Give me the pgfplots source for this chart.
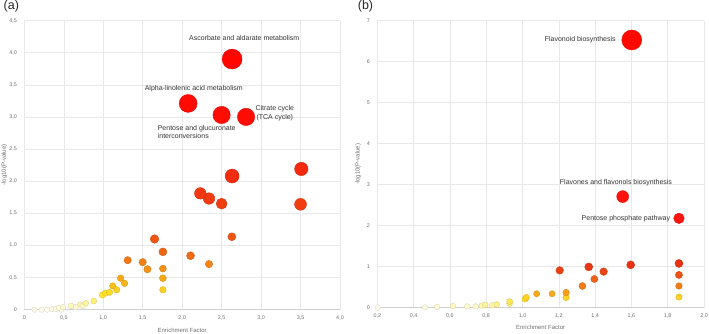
\documentclass[border=0pt]{standalone}
\usepackage{pgfplots}
\pgfplotsset{compat=1.18}
\usepackage{fontspec}
\setmainfont{Liberation Sans}

\definecolor{gridgray}{HTML}{E8E8E8}
\definecolor{basegray}{HTML}{CFCFCF}
\definecolor{ticktext}{HTML}{6E6E6E}
\definecolor{annot}{HTML}{333333}

\tikzset{lbl/.style={font=\fontsize{7}{8.3}\selectfont, text=annot, inner sep=0pt}}

\pgfplotsset{
  colormap={leftmap}{
    rgb255(0pt)=(255,253,238)
    rgb255(5pt)=(255,250,205)
    rgb255(10pt)=(255,245,160)
    rgb255(15pt)=(255,238,100)
    rgb255(25pt)=(255,228,40)
    rgb255(35pt)=(250,195,30)
    rgb255(50pt)=(246,168,24)
    rgb255(70pt)=(242,135,22)
    rgb255(85pt)=(240,105,20)
    rgb255(110pt)=(240,85,18)
    rgb255(170pt)=(240,60,16)
    rgb255(220pt)=(246,40,14)
    rgb255(300pt)=(255,12,4)
    rgb255(400pt)=(255,5,0)
  },
  colormap={rightmap}{
    rgb255(0pt)=(255,253,238)
    rgb255(5pt)=(255,247,180)
    rgb255(10pt)=(255,240,120)
    rgb255(20pt)=(255,225,50)
    rgb255(27pt)=(252,205,35)
    rgb255(36pt)=(246,160,28)
    rgb255(53pt)=(240,125,24)
    rgb255(72pt)=(238,95,22)
    rgb255(90pt)=(234,65,20)
    rgb255(105pt)=(232,50,18)
    rgb255(220pt)=(255,20,15)
    rgb255(700pt)=(255,8,0)
  },
  enrich/.style={
    scale only axis, clip=false,
    axis x line*=bottom, axis y line*=left,
    x axis line style={draw=basegray, line width=0.6pt, -},
    y axis line style={draw=none},
    major tick length=0pt,
    grid=major, grid style={draw=gridgray, line width=0.5pt},
    tick label style={font=\fontsize{5.4}{6}\selectfont, text=ticktext},
    yticklabel style={xshift=-4pt},
    xticklabel style={yshift=-2.5pt},
    label style={font=\fontsize{6}{7}\selectfont, text=ticktext},
    xlabel={Enrichment Factor},
    ylabel={-log10(P-value)},
  },
  bubbles/.style={
    scatter, only marks, mark=*,
    scatter src=y,
    mark options={line width=0.35pt},
    scatter/use mapped color={draw=mapped color!85!black, fill=mapped color},
    visualization depends on={\thisrow{r}\as\rad},
    scatter/@pre marker code/.append style={/tikz/mark size=\rad},
  },
}

% pathway enrichment, panel (a)
\pgfplotstableread{
x y r
0.13 0.00 2.7
0.22 0.00 2.7
0.29 0.00 2.7
0.35 0.01 2.7
0.40 0.01 2.7
0.47 0.00 2.7
0.44 0.03 2.8
0.49 0.04 2.8
0.65 0.04 2.8
0.59 0.06 2.9
0.71 0.08 2.9
0.74 0.06 2.9
0.78 0.10 2.9
0.88 0.135 3.0
0.99 0.23 3.2
1.03 0.26 3.2
1.08 0.27 3.2
1.17 0.31 3.2
1.12 0.37 3.2
1.27 0.41 3.3
1.22 0.49 3.3
1.756 0.31 3.3
1.756 0.49 3.5
1.756 0.64 3.5
2.34 0.71 3.7
1.56 0.63 3.7
1.50 0.74 3.7
1.31 0.77 3.7
2.106 0.84 4.0
1.756 0.90 4.0
1.65 1.10 4.3
2.63 1.135 4.0
3.50 1.64 6.0
2.50 1.65 5.5
2.34 1.73 5.8
2.23 1.81 5.8
3.51 2.19 6.7
2.633 2.08 7.0
2.81 3.00 8.7
2.50 3.03 8.7
2.076 3.21 9.0
2.633 3.90 10.0
}\leftdata

% pathway enrichment, panel (b)
\pgfplotstableread{
x y r
0.202 0.00 2.8
0.463 0.01 2.8
0.529 0.02 2.8
0.617 0.04 2.9
0.696 0.03 2.9
0.742 0.03 2.9
0.775 0.05 2.9
0.795 0.07 2.9
0.834 0.06 2.9
0.858 0.08 2.9
0.929 0.10 3.0
0.929 0.15 3.0
1.014 0.21 3.1
1.021 0.25 3.1
1.862 0.26 3.2
1.24 0.25 3.2
1.078 0.34 3.1
1.163 0.34 3.1
1.24 0.37 3.3
1.862 0.53 3.3
1.33 0.53 3.5
1.862 0.80 3.6
1.396 0.70 3.6
1.447 0.88 3.8
1.205 0.91 3.8
1.365 0.995 4.0
1.596 1.045 4.0
1.862 1.08 4.0
1.862 2.18 5.3
1.552 2.71 6.0
1.602 6.53 10.0
}\rightdata

\begin{document}
\begin{tikzpicture}[x=1pt,y=1pt]
\useasboundingbox (0,0) rectangle (709,333);

\begin{axis}[enrich,
  at={(24.3pt,23.3pt)}, anchor=south west,
  width=315.7pt, height=289.2pt,
  xmin=0, xmax=4, ymin=0, ymax=4.5,
  xtick={0,0.5,1,1.5,2,2.5,3,3.5,4},
  xticklabels={0,{0,5},{1,0},{1,5},{2,0},{2,5},{3,0},{3,5},{4,0}},
  ytick={0,0.5,1,1.5,2,2.5,3,3.5,4,4.5},
  yticklabels={0,{0,5},{1,0},{1,5},{2,0},{2,5},{3,0},{3,5},{4,0},{4,5}},
  xlabel style={at={(axis description cs:0.5,-0.070)}, anchor=center},
  ylabel style={at={(axis description cs:-0.063,0.5)}, anchor=center},
  colormap name=leftmap, point meta min=0, point meta max=4,
]
\addplot[bubbles] table[x=x, y=y] {\leftdata};
\node[lbl] at (axis cs:2.787,4.23) {Ascorbate and aldarate metabolism};
\node[lbl] at (axis cs:2.148,3.443) {Alpha-linolenic acid metabolism};
\node[lbl, align=center] at (axis cs:3.174,3.056) {Citrate cycle\\(TCA cycle)};
\node[lbl, align=left, anchor=west] at (axis cs:1.689,2.765) {Pentose and glucuronate\\interconversions};
\end{axis}

\begin{axis}[enrich,
  at={(377.3pt,25.3pt)}, anchor=south west,
  width=326.7pt, height=287pt,
  xmin=0.2, xmax=2.0, ymin=0, ymax=7,
  xtick={0.2,0.4,0.6,0.8,1.0,1.2,1.4,1.6,1.8,2.0},
  xticklabels={{0,2},{0,4},{0,6},{0,8},{1,0},{1,2},{1,4},{1,6},{1,8},{2,0}},
  ytick={0,1,2,3,4,5,6,7},
  yticklabels={0,1,2,3,4,5,6,7},
  xlabel style={at={(axis description cs:0.5,-0.0697)}, anchor=center},
  ylabel style={at={(axis description cs:-0.059,0.5)}, anchor=center},
  colormap name=rightmap, point meta min=0, point meta max=7,
]
\addplot[bubbles] table[x=x, y=y] {\rightdata};
\node[lbl] at (axis cs:1.318,6.528) {Flavonoid biosynthesis};
\node[lbl] at (axis cs:1.515,3.04) {Flavones and flavonols biosynthesis};
\node[lbl, anchor=east] at (axis cs:1.814,2.176) {Pentose phosphate pathway};
\end{axis}

\node[font=\fontsize{12.5}{14}\selectfont, text=black!85] at (11.3,326.3) {(a)};
\node[font=\fontsize{12.5}{14}\selectfont, text=black!85] at (365.5,326.3) {(b)};
\end{tikzpicture}
\end{document}
